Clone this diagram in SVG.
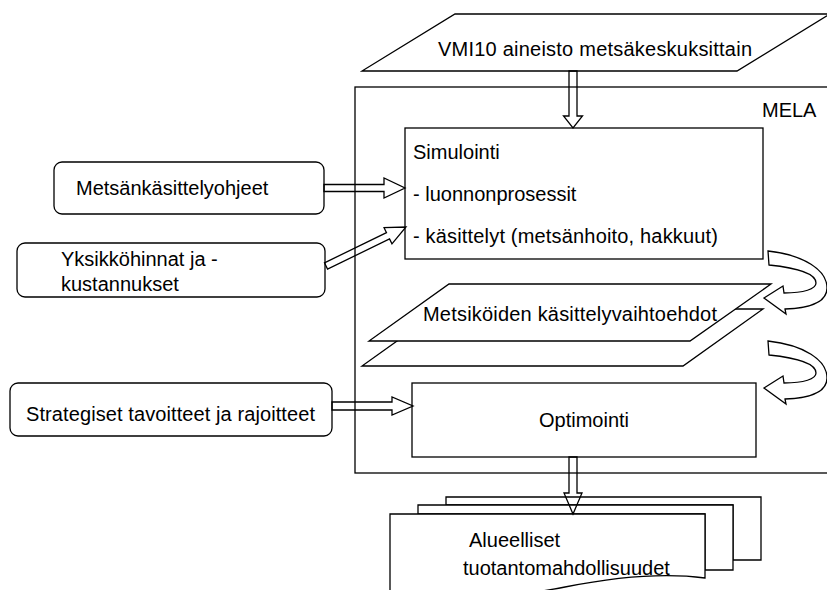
<svg xmlns="http://www.w3.org/2000/svg" width="827" height="590" viewBox="0 0 827 590">
<style>
.ln{fill:none;stroke:#000;stroke-width:1.3;stroke-linejoin:miter}
.wf{fill:#fff;stroke:#000;stroke-width:1.3}
.t{font-family:"Liberation Sans",Arial,sans-serif;font-size:20px;fill:#000}
</style>
<rect width="827" height="590" fill="#fff"/>
<g id="mela">
<rect class="ln" x="355" y="87" width="520" height="386"/>
<text class="t" x="762" y="117">MELA</text>
</g>
<g id="vmi">
<polygon class="wf" points="455,14 830,14 737,71 362,71"/>
<text class="t" x="438" y="56" textLength="314">VMI10 aineisto metsäkeskuksittain</text>
</g>
<g id="simulointi">
<rect class="wf" x="405" y="128" width="358" height="131"/>
<text class="t" x="413" y="159">Simulointi</text>
<text class="t" x="413" y="201">- luonnonprosessit</text>
<text class="t" x="413" y="243" textLength="305">- käsittelyt (metsänhoito, hakkuut)</text>
</g>
<g id="ohjeet">
<rect class="wf" x="54" y="162" width="270" height="52" rx="8"/>
<text class="t" x="76" y="195">Metsänkäsittelyohjeet</text>
</g>
<g id="hinnat">
<rect class="wf" x="17" y="243" width="308" height="54" rx="8"/>
<text class="t" x="61" y="266">Yksikköhinnat ja -</text>
<text class="t" x="61" y="291">kustannukset</text>
</g>
<g id="vaihtoehdot">
<polygon class="wf" points="442,309 763,309 683,366 362,366"/>
<polygon class="wf" points="449,284 771,284 690,341 369,341"/>
<text class="t" x="423" y="321" textLength="294">Metsiköiden käsittelyvaihtoehdot</text>
</g>
<g id="strategiset">
<rect class="wf" x="10" y="383" width="322" height="53" rx="8"/>
<text class="t" x="26" y="421" textLength="289">Strategiset tavoitteet ja rajoitteet</text>
</g>
<g id="optimointi">
<rect class="wf" x="412" y="383" width="344" height="74"/>
<text class="t" x="584" y="427" text-anchor="middle">Optimointi</text>
</g>
<g id="tulokset">
<path class="wf" d="M446,497 H761 V560 H733 V505 H446 Z"/>
<path class="wf" d="M418,505 H733 V570 H705 V514 H418 Z"/>
<path class="wf" d="M390,514 H705 V578 C660,572 610,578 565,587 C520,596 460,600 390,596 Z"/>
<text class="t" x="469" y="547">Alueelliset</text>
<text class="t" x="463" y="575">tuotantomahdollisuudet</text>
</g>
<g id="connectors">
<polygon class="ln" points="569,71 577,71 577,116 582.5,116 573,128 563.5,116 569,116"/>
<polygon class="ln" points="324,184.5 384,184.5 384,178 405,188 384,198 384,191.5 324,191.5"/>
<polygon class="ln" transform="translate(326,266) rotate(-26)" points="0,-3.5 69,-3.5 69,-9 89,0 69,9 69,3.5 0,3.5"/>
<polygon class="ln" points="332,402 392,402 392,397 413,406 392,415 392,410 332,410"/>
<polygon class="ln" points="569,457 577,457 577,493 582,493 573,514 564,493 569,493"/>
<path class="wf" d="M768,251 C804,255 827,270 827,288 C827,301 812,308 785,309 L786,314 L764,298 L783,286 L784,293 C804,293 816,289 816,283 C816,274 798,268 769,265 Z"/>
<path class="wf" transform="translate(0,90)" d="M768,251 C804,255 827,270 827,288 C827,301 812,308 785,309 L786,314 L764,298 L783,286 L784,293 C804,293 816,289 816,283 C816,274 798,268 769,265 Z"/>
</g>
</svg>
